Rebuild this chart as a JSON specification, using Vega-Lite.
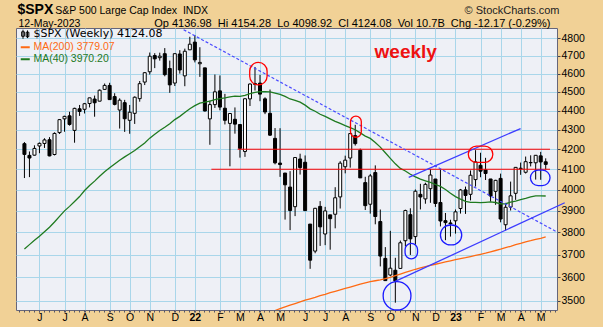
{
  "$schema": "https://vega.github.io/schema/vega-lite/v6.json",
  "width": 541,
  "height": 282,
  "autosize": {"type": "none"},
  "padding": {"left": 16, "top": 28, "right": 46, "bottom": 17},
  "background": "#f1d196",
  "config": {
    "view": {"stroke": "#66667a", "strokeWidth": 1, "fill": "#eef0f6"},
    "font": "Liberation Sans"
  },
  "title": {
    "text": "$SPX",
    "anchor": "start",
    "frame": "group",
    "font": "Liberation Sans",
    "fontSize": 14,
    "fontWeight": "bold",
    "color": "#000000",
    "offset": 0,
    "dx": 1.5,
    "dy": 12.5
  },
  "resolve": {"axis": {"x": "independent", "y": "independent"}},
  "datasets": {
    "weeks": [
      {"d":"2021-05-10","o":4228.29,"h":4236.39,"l":4056.88,"c":4173.85,"ma40":3724.8},
      {"d":"2021-05-17","o":4169.14,"h":4188.72,"l":4061.41,"c":4155.86,"ma40":3744.4},
      {"d":"2021-05-24","o":4170.16,"h":4219.76,"l":4168.4,"c":4204.11,"ma40":3764.6},
      {"d":"2021-05-31","o":4216.52,"h":4234.12,"l":4180.0,"c":4229.89,"ma40":3782.6},
      {"d":"2021-06-07","o":4229.34,"h":4255.84,"l":4206.54,"c":4247.44,"ma40":3803.1},
      {"d":"2021-06-14","o":4248.31,"h":4261.66,"l":4164.4,"c":4166.45,"ma40":3823.8},
      {"d":"2021-06-21","o":4173.4,"h":4286.12,"l":4169.0,"c":4280.7,"ma40":3847.8},
      {"d":"2021-06-28","o":4284.9,"h":4355.78,"l":4278.0,"c":4352.34,"ma40":3874.2},
      {"d":"2021-07-05","o":4356.46,"h":4372.87,"l":4289.37,"c":4369.55,"ma40":3899.7},
      {"d":"2021-07-12","o":4372.41,"h":4393.68,"l":4321.07,"c":4327.16,"ma40":3920.9},
      {"d":"2021-07-19","o":4296.4,"h":4415.18,"l":4233.13,"c":4411.79,"ma40":3944.1},
      {"d":"2021-07-26","o":4409.58,"h":4429.97,"l":4372.0,"c":4395.26,"ma40":3967.4},
      {"d":"2021-08-02","o":4406.86,"h":4440.82,"l":4384.81,"c":4436.52,"ma40":3996.5},
      {"d":"2021-08-09","o":4437.77,"h":4468.37,"l":4416.75,"c":4468.0,"ma40":4020.5},
      {"d":"2021-08-16","o":4461.65,"h":4480.26,"l":4367.73,"c":4441.67,"ma40":4041.9},
      {"d":"2021-08-23","o":4450.29,"h":4513.33,"l":4450.0,"c":4509.37,"ma40":4065.7},
      {"d":"2021-08-30","o":4513.76,"h":4545.85,"l":4513.0,"c":4535.43,"ma40":4088.1},
      {"d":"2021-09-06","o":4535.38,"h":4549.78,"l":4457.66,"c":4458.58,"ma40":4107.1},
      {"d":"2021-09-13","o":4474.81,"h":4492.99,"l":4427.76,"c":4432.99,"ma40":4126.4},
      {"d":"2021-09-20","o":4402.95,"h":4465.4,"l":4305.91,"c":4455.48,"ma40":4145.0},
      {"d":"2021-09-27","o":4442.12,"h":4457.3,"l":4288.52,"c":4357.04,"ma40":4161.4},
      {"d":"2021-10-04","o":4348.84,"h":4429.97,"l":4278.94,"c":4391.34,"ma40":4177.2},
      {"d":"2021-10-11","o":4385.44,"h":4475.82,"l":4329.92,"c":4471.37,"ma40":4193.4},
      {"d":"2021-10-18","o":4463.72,"h":4559.67,"l":4447.47,"c":4544.9,"ma40":4212.8},
      {"d":"2021-10-25","o":4553.69,"h":4608.08,"l":4537.36,"c":4605.38,"ma40":4231.9},
      {"d":"2021-11-01","o":4610.62,"h":4718.5,"l":4595.06,"c":4697.53,"ma40":4256.5},
      {"d":"2021-11-08","o":4701.48,"h":4714.92,"l":4630.86,"c":4682.85,"ma40":4276.4},
      {"d":"2021-11-15","o":4689.3,"h":4717.75,"l":4672.78,"c":4697.96,"ma40":4295.5},
      {"d":"2021-11-22","o":4712.0,"h":4743.83,"l":4585.43,"c":4594.62,"ma40":4312.7},
      {"d":"2021-11-29","o":4628.75,"h":4672.95,"l":4495.12,"c":4538.43,"ma40":4330.9},
      {"d":"2021-12-06","o":4548.37,"h":4713.57,"l":4532.1,"c":4712.02,"ma40":4352.6},
      {"d":"2021-12-13","o":4710.3,"h":4731.99,"l":4600.22,"c":4620.64,"ma40":4369.6},
      {"d":"2021-12-20","o":4587.9,"h":4740.74,"l":4531.1,"c":4725.79,"ma40":4389.9},
      {"d":"2021-12-27","o":4733.99,"h":4808.93,"l":4733.99,"c":4766.18,"ma40":4409.7},
      {"d":"2022-01-03","o":4778.14,"h":4818.62,"l":4662.74,"c":4677.03,"ma40":4426.1},
      {"d":"2022-01-10","o":4655.34,"h":4748.83,"l":4582.24,"c":4662.85,"ma40":4439.4},
      {"d":"2022-01-17","o":4632.24,"h":4632.24,"l":4395.34,"c":4397.94,"ma40":4444.8},
      {"d":"2022-01-24","o":4356.32,"h":4453.23,"l":4222.62,"c":4431.85,"ma40":4451.0},
      {"d":"2022-01-31","o":4431.79,"h":4595.31,"l":4414.01,"c":4500.53,"ma40":4459.0},
      {"d":"2022-02-07","o":4505.75,"h":4590.03,"l":4401.41,"c":4418.64,"ma40":4463.7},
      {"d":"2022-02-14","o":4412.61,"h":4489.55,"l":4327.22,"c":4348.87,"ma40":4468.1},
      {"d":"2022-02-21","o":4332.74,"h":4385.04,"l":4114.65,"c":4384.65,"ma40":4473.8},
      {"d":"2022-02-28","o":4354.17,"h":4416.78,"l":4279.54,"c":4328.87,"ma40":4476.9},
      {"d":"2022-03-07","o":4327.01,"h":4327.01,"l":4157.87,"c":4204.31,"ma40":4476.3},
      {"d":"2022-03-14","o":4188.82,"h":4465.4,"l":4161.72,"c":4463.12,"ma40":4481.7,"ma200":3405},
      {"d":"2022-03-21","o":4462.4,"h":4546.03,"l":4424.3,"c":4543.06,"ma40":4491.1,"ma200":3414},
      {"d":"2022-03-28","o":4541.09,"h":4637.3,"l":4507.57,"c":4545.86,"ma40":4497.7,"ma200":3423},
      {"d":"2022-04-04","o":4547.97,"h":4593.45,"l":4450.04,"c":4488.28,"ma40":4501.1,"ma200":3432},
      {"d":"2022-04-11","o":4462.64,"h":4471.0,"l":4381.34,"c":4392.59,"ma40":4501.7,"ma200":3441},
      {"d":"2022-04-18","o":4385.63,"h":4512.94,"l":4267.62,"c":4271.78,"ma40":4500.3,"ma200":3450},
      {"d":"2022-04-25","o":4255.34,"h":4308.45,"l":4124.28,"c":4131.93,"ma40":4493.3,"ma200":3459},
      {"d":"2022-05-02","o":4130.61,"h":4307.66,"l":4062.51,"c":4123.34,"ma40":4486.5,"ma200":3467},
      {"d":"2022-05-09","o":4081.27,"h":4081.27,"l":3858.87,"c":4023.89,"ma40":4476.2,"ma200":3474},
      {"d":"2022-05-16","o":4013.02,"h":4090.72,"l":3810.32,"c":3901.36,"ma40":4462.0,"ma200":3481},
      {"d":"2022-05-23","o":3919.42,"h":4158.49,"l":3875.13,"c":4158.24,"ma40":4454.9,"ma200":3488},
      {"d":"2022-05-30","o":4151.09,"h":4177.51,"l":4073.85,"c":4108.54,"ma40":4444.9,"ma200":3495},
      {"d":"2022-06-06","o":4134.72,"h":4168.78,"l":3900.16,"c":3900.86,"ma40":4429.0,"ma200":3502},
      {"d":"2022-06-13","o":3838.15,"h":3838.15,"l":3636.87,"c":3674.84,"ma40":4409.4,"ma200":3508},
      {"d":"2022-06-20","o":3715.31,"h":3913.65,"l":3705.68,"c":3911.74,"ma40":4396.4,"ma200":3514},
      {"d":"2022-06-27","o":3920.76,"h":3945.86,"l":3738.67,"c":3825.33,"ma40":4380.7,"ma200":3521},
      {"d":"2022-07-04","o":3792.61,"h":3918.5,"l":3742.06,"c":3899.38,"ma40":4369.2,"ma200":3527},
      {"d":"2022-07-11","o":3880.94,"h":3880.94,"l":3721.56,"c":3863.16,"ma40":4356.0,"ma200":3534},
      {"d":"2022-07-18","o":3883.79,"h":4012.44,"l":3818.63,"c":3961.63,"ma40":4343.3,"ma200":3540},
      {"d":"2022-07-25","o":3965.72,"h":4140.15,"l":3910.74,"c":4130.29,"ma40":4332.9,"ma200":3546},
      {"d":"2022-08-01","o":4112.38,"h":4167.66,"l":4079.81,"c":4145.19,"ma40":4321.4,"ma200":3552},
      {"d":"2022-08-08","o":4155.93,"h":4280.47,"l":4107.96,"c":4280.15,"ma40":4311.0,"ma200":3558},
      {"d":"2022-08-15","o":4269.37,"h":4325.28,"l":4218.7,"c":4228.48,"ma40":4299.6,"ma200":3564},
      {"d":"2022-08-22","o":4195.08,"h":4203.04,"l":4057.66,"c":4057.66,"ma40":4283.6,"ma200":3570},
      {"d":"2022-08-29","o":4034.58,"h":4062.99,"l":3903.65,"c":3924.26,"ma40":4266.8,"ma200":3576},
      {"d":"2022-09-05","o":3930.89,"h":4076.81,"l":3886.75,"c":4067.36,"ma40":4255.1,"ma200":3581},
      {"d":"2022-09-12","o":4083.67,"h":4119.28,"l":3837.08,"c":3873.33,"ma40":4234.1,"ma200":3585},
      {"d":"2022-09-19","o":3849.91,"h":3906.03,"l":3647.47,"c":3693.23,"ma40":4210.9,"ma200":3589},
      {"d":"2022-09-26","o":3682.72,"h":3733.25,"l":3584.13,"c":3585.62,"ma40":4182.4,"ma200":3594},
      {"d":"2022-10-03","o":3609.78,"h":3806.91,"l":3604.93,"c":3639.66,"ma40":4154.2,"ma200":3600},
      {"d":"2022-10-10","o":3630.66,"h":3685.41,"l":3491.58,"c":3583.07,"ma40":4126.9,"ma200":3607},
      {"d":"2022-10-17","o":3638.65,"h":3762.79,"l":3638.65,"c":3752.75,"ma40":4104.1,"ma200":3614},
      {"d":"2022-10-24","o":3762.01,"h":3905.42,"l":3735.96,"c":3901.06,"ma40":4091.7,"ma200":3621},
      {"d":"2022-10-31","o":3881.85,"h":3911.79,"l":3698.15,"c":3770.55,"ma40":4075.2,"ma200":3628},
      {"d":"2022-11-07","o":3780.71,"h":4001.48,"l":3744.22,"c":3992.93,"ma40":4062.5,"ma200":3635},
      {"d":"2022-11-14","o":3977.97,"h":4028.84,"l":3906.54,"c":3965.34,"ma40":4051.2,"ma200":3641},
      {"d":"2022-11-21","o":3956.23,"h":4034.02,"l":3933.34,"c":4026.12,"ma40":4043.1,"ma200":3647},
      {"d":"2022-11-28","o":4005.36,"h":4100.51,"l":3937.65,"c":4071.7,"ma40":4035.3,"ma200":3652},
      {"d":"2022-12-05","o":4052.02,"h":4052.45,"l":3918.39,"c":3934.38,"ma40":4025.4,"ma200":3657},
      {"d":"2022-12-12","o":3939.29,"h":4100.96,"l":3827.29,"c":3852.36,"ma40":4016.6,"ma200":3662},
      {"d":"2022-12-19","o":3853.79,"h":3889.82,"l":3764.49,"c":3844.82,"ma40":4001.2,"ma200":3667},
      {"d":"2022-12-26","o":3843.34,"h":3858.19,"l":3780.78,"c":3839.5,"ma40":3983.6,"ma200":3672},
      {"d":"2023-01-02","o":3853.29,"h":3906.19,"l":3794.33,"c":3895.08,"ma40":3967.3,"ma200":3677},
      {"d":"2023-01-09","o":3910.82,"h":4003.95,"l":3887.0,"c":3999.09,"ma40":3955.1,"ma200":3682},
      {"d":"2023-01-16","o":3999.28,"h":4015.39,"l":3885.54,"c":3972.61,"ma40":3944.6,"ma200":3686},
      {"d":"2023-01-23","o":3978.14,"h":4094.21,"l":3949.06,"c":4070.56,"ma40":3939.5,"ma200":3691},
      {"d":"2023-01-30","o":4049.27,"h":4195.44,"l":4015.55,"c":4136.48,"ma40":3939.7,"ma200":3696},
      {"d":"2023-02-06","o":4119.57,"h":4182.36,"l":4060.79,"c":4090.46,"ma40":3938.8,"ma200":3701},
      {"d":"2023-02-13","o":4096.62,"h":4156.84,"l":4047.3,"c":4079.09,"ma40":3940.2,"ma200":3706},
      {"d":"2023-02-20","o":4052.35,"h":4052.35,"l":3943.08,"c":3970.04,"ma40":3941.9,"ma200":3712},
      {"d":"2023-02-27","o":3992.36,"h":4048.29,"l":3928.16,"c":4045.64,"ma40":3939.1,"ma200":3718},
      {"d":"2023-03-06","o":4055.15,"h":4078.49,"l":3846.32,"c":3861.59,"ma40":3932.9,"ma200":3724},
      {"d":"2023-03-13","o":3835.12,"h":3937.29,"l":3808.86,"c":3916.64,"ma40":3933.3,"ma200":3731},
      {"d":"2023-03-20","o":3917.47,"h":4039.49,"l":3901.27,"c":3970.99,"ma40":3940.7,"ma200":3737},
      {"d":"2023-03-27","o":3982.93,"h":4110.75,"l":3951.53,"c":4109.31,"ma40":3945.7,"ma200":3744},
      {"d":"2023-04-03","o":4102.2,"h":4133.13,"l":4072.55,"c":4105.02,"ma40":3952.7,"ma200":3750},
      {"d":"2023-04-10","o":4085.2,"h":4163.19,"l":4079.0,"c":4137.64,"ma40":3958.6,"ma200":3757},
      {"d":"2023-04-17","o":4132.1,"h":4169.48,"l":4114.0,"c":4133.52,"ma40":3965.4,"ma200":3762},
      {"d":"2023-04-24","o":4132.07,"h":4170.06,"l":4049.35,"c":4169.48,"ma40":3970.6,"ma200":3768},
      {"d":"2023-05-01","o":4166.79,"h":4186.92,"l":4048.28,"c":4136.25,"ma40":3970.7,"ma200":3773},
      {"d":"2023-05-08","o":4136.98,"h":4154.28,"l":4098.92,"c":4124.08,"ma40":3970.2,"ma200":3779.07}
    ],
    "trends": [
      {"line":"downtrend","t1":"2021-12-18T08:00:00Z","p1":4850,"t2":"2023-05-23T05:00:00Z","p2":3803},
      {"line":"support","t1":"2022-10-09T02:00:00Z","p1":3581,"t2":"2023-06-03T14:00:00Z","p2":3938},
      {"line":"channel","t1":"2022-10-28T16:00:00Z","p1":4060,"t2":"2023-04-02T22:00:00Z","p2":4306}
    ],
    "levels": [
      {"price":4200,"t1":"2022-03-03T18:00:00Z","t2":"2023-05-14T00:00:00Z"},
      {"price":4100,"t1":"2022-01-26T03:00:00Z","t2":"2023-05-14T00:00:00Z"}
    ],
    "circles": [
      {"kind":"high","t1":"2022-03-20T15:00:00Z","t2":"2022-04-13T21:00:00Z","ptop":4663,"pbot":4538},
      {"kind":"high","t1":"2022-08-08T09:00:00Z","t2":"2022-08-23T11:00:00Z","ptop":4371,"pbot":4261},
      {"kind":"high","t1":"2023-01-19T21:00:00Z","t2":"2023-02-23T04:00:00Z","ptop":4216,"pbot":4134},
      {"kind":"low","t1":"2022-10-23T14:00:00Z","t2":"2022-11-10T00:00:00Z","ptop":3750,"pbot":3681},
      {"kind":"low","t1":"2022-09-23T00:00:00Z","t2":"2022-10-31T19:00:00Z","ptop":3581,"pbot":3461},
      {"kind":"low","t1":"2022-12-11T23:00:00Z","t2":"2023-01-10T17:00:00Z","ptop":3834,"pbot":3743},
      {"kind":"low","t1":"2023-04-16T16:00:00Z","t2":"2023-05-14T01:00:00Z","ptop":4096,"pbot":4020}
    ],
    "notes": [
      {"t":"2022-10-24T12:00:00Z","price":4721,"note":"weekly"}
    ]
  },
  "layer": [
    {
      "data": {"name": "weeks"},
      "mark": {"type": "rule", "color": "#000000", "strokeWidth": 1, "clip": true},
      "encoding": {
        "x": {
          "field": "d", "type": "temporal",
          "scale": {"type": "utc", "nice": false, "domain": [{"year": 2021, "month": 5, "date": 5, "hours": 5, "utc": true}, {"year": 2023, "month": 5, "date": 16, "hours": 19, "utc": true}]},
          "axis": {
            "orient": "bottom",
            "title": "Op 4136.98\u00a0\u00a0Hi 4154.28\u00a0\u00a0Lo 4098.92\u00a0\u00a0Cl 4124.08\u00a0\u00a0Vol 10.7B\u00a0\u00a0Chg -12.17 (-0.29%)",
            "titleX": 534, "titleY": -287, "titleAlign": "right", "titleBaseline": "middle", "titleAnchor": "start",
            "titleFont": "Liberation Sans", "titleFontSize": 11, "titleFontWeight": "normal", "titleColor": "#000000",
            "values": [
              {"year": 2021, "month": 5, "date": 31, "utc": true},
              {"year": 2021, "month": 7, "date": 5, "utc": true},
              {"year": 2021, "month": 8, "date": 2, "utc": true},
              {"year": 2021, "month": 9, "date": 6, "utc": true},
              {"year": 2021, "month": 10, "date": 4, "utc": true},
              {"year": 2021, "month": 11, "date": 1, "utc": true},
              {"year": 2021, "month": 12, "date": 6, "utc": true},
              {"year": 2022, "month": 1, "date": 3, "utc": true},
              {"year": 2022, "month": 2, "date": 7, "utc": true},
              {"year": 2022, "month": 3, "date": 7, "utc": true},
              {"year": 2022, "month": 4, "date": 4, "utc": true},
              {"year": 2022, "month": 5, "date": 2, "utc": true},
              {"year": 2022, "month": 6, "date": 6, "utc": true},
              {"year": 2022, "month": 7, "date": 4, "utc": true},
              {"year": 2022, "month": 8, "date": 1, "utc": true},
              {"year": 2022, "month": 9, "date": 5, "utc": true},
              {"year": 2022, "month": 10, "date": 3, "utc": true},
              {"year": 2022, "month": 11, "date": 7, "utc": true},
              {"year": 2022, "month": 12, "date": 5, "utc": true},
              {"year": 2023, "month": 1, "date": 2, "utc": true},
              {"year": 2023, "month": 2, "date": 6, "utc": true},
              {"year": 2023, "month": 3, "date": 6, "utc": true},
              {"year": 2023, "month": 4, "date": 3, "utc": true},
              {"year": 2023, "month": 5, "date": 1, "utc": true}
            ],
            "labelExpr": "utcmonth(time(datum.value) + 1728e5) == 0 ? utcFormat(time(datum.value) + 1728e5, '%y') : substring(utcFormat(time(datum.value) + 1728e5, '%b'), 0, 1)",
            "labelOverlap": false, "labelFlush": false, "labelPadding": 0, "labelBaseline": "top",
            "labelFont": "Liberation Sans", "labelFontSize": 10.5, "labelColor": "#000000",
            "labelFontWeight": {"condition": {"test": "utcmonth(time(datum.value) + 1728e5) == 0", "value": "bold"}, "value": "normal"},
            "tickSize": 2, "tickColor": "#555566", "domain": false,
            "grid": true, "gridColor": "#a9d6ea", "gridWidth": 1
          }
        },
        "y": {
          "field": "l", "type": "quantitative",
          "scale": {"type": "log", "domain": [3461, 4860], "nice": false, "zero": false},
          "axis": {
            "orient": "right",
            "values": [3500, 3600, 3700, 3800, 3900, 4000, 4100, 4200, 4300, 4400, 4500, 4600, 4700, 4800],
            "format": "d", "tickSize": 3, "tickColor": "#444455", "labelPadding": 1,
            "labelFont": "Liberation Sans", "labelFontSize": 10.5, "labelColor": "#000000", "labelBaseline": "middle",
            "labelFlush": false, "labelOverlap": false, "domain": false,
            "grid": true, "gridColor": "#a9d6ea", "gridWidth": 1,
            "title": "\u00a9 StockCharts.com", "titleAngle": 0, "titleAlign": "right", "titleBaseline": "middle",
            "titleX": 2, "titleY": -17.6, "titleFont": "Liberation Sans", "titleFontSize": 11, "titleFontWeight": "normal", "titleColor": "#222222"
          }
        },
        "y2": {"field": "h"}
      }
    },
    {
      "data": {"name": "weeks"},
      "mark": {"type": "bar", "size": 3, "stroke": "#000000", "strokeWidth": 1, "clip": true},
      "encoding": {
        "x": {
          "field": "d", "type": "temporal",
          "axis": {"orient": "bottom", "title": null, "labels": false, "grid": false, "domain": false, "ticks": true, "tickSize": 2, "tickColor": "#555566", "tickCount": {"interval": "week", "step": 1}}
        },
        "y": {"field": "o", "type": "quantitative", "axis": null},
        "y2": {"field": "c"},
        "fill": {"condition": {"test": "datum.c > datum.o", "value": "#ffffff"}, "value": "#000000"}
      }
    },
    {
      "data": {"name": "weeks"},
      "transform": [
        {"fold": ["ma200", "ma40"], "as": ["series", "value"]},
        {"filter": "isValid(datum.value)"}
      ],
      "mark": {"type": "line", "strokeWidth": 1.3, "clip": true},
      "encoding": {
        "x": {"field": "d", "type": "temporal", "axis": null},
        "y": {"field": "value", "type": "quantitative", "axis": null},
        "color": {
          "field": "series", "type": "nominal",
          "scale": {"domain": ["spx", "ma200", "ma40"], "range": ["#000000", "#ff6a13", "#1f7a1f"]},
          "legend": {
            "orient": "none", "legendX": 4, "legendY": 1, "padding": 0, "title": null,
            "symbolType": "stroke", "symbolSize": 81, "symbolStrokeWidth": 2,
            "labelFont": "Liberation Sans", "labelFontSize": 10.5, "labelOffset": 3, "rowPadding": 1,
            "labelExpr": "datum.value == 'spx' ? '$SPX (Weekly) 4124.08' : datum.value == 'ma200' ? 'MA(200) 3779.07' : 'MA(40) 3970.20'",
            "encode": {
              "labels": {"update": {
                "fill": {"scale": "color", "field": "value"},
                "font": {"signal": "datum.value == 'spx' ? 'DejaVu Sans' : 'Liberation Sans'"},
                "fontSize": {"signal": "datum.value == 'spx' ? 11 : 10.5"}
              }},
              "symbols": {"update": {
                "shape": {"signal": "datum.value == 'spx' ? 'M-0.5,-1V1M-0.8,-0.55H-0.2V0.45H-0.8ZM0.5,-0.85V0.85M0.2,-0.45H0.8V0.55H0.2Z' : 'stroke'"},
                "strokeWidth": {"signal": "datum.value == 'spx' ? 1 : 2"}
              }}
            }
          }
        }
      }
    },
    {
      "data": {"name": "levels"},
      "mark": {"type": "rule", "color": "#ff0000", "strokeWidth": 1, "clip": false},
      "encoding": {
        "x": {"field": "t1", "type": "temporal", "axis": null},
        "x2": {"field": "t2"},
        "y": {"field": "price", "type": "quantitative", "axis": null}
      }
    },
    {
      "data": {"name": "trends"},
      "transform": [{"filter": "datum.line == 'downtrend'"}],
      "mark": {"type": "rule", "color": "#4a4aff", "strokeWidth": 1.2, "strokeDash": [3, 2], "clip": false},
      "encoding": {
        "x": {"field": "t1", "type": "temporal", "axis": null},
        "x2": {"field": "t2"},
        "y": {"field": "p1", "type": "quantitative", "axis": null},
        "y2": {"field": "p2"}
      }
    },
    {
      "data": {"name": "trends"},
      "transform": [{"filter": "datum.line != 'downtrend'"}],
      "mark": {"type": "rule", "color": "#3c3cff", "strokeWidth": 1.3, "clip": false},
      "encoding": {
        "x": {"field": "t1", "type": "temporal", "axis": null},
        "x2": {"field": "t2"},
        "y": {"field": "p1", "type": "quantitative", "axis": null},
        "y2": {"field": "p2"}
      }
    },
    {
      "data": {"name": "circles"},
      "mark": {"type": "rect", "filled": false, "strokeWidth": 1.3, "cornerRadius": 40, "clip": false},
      "encoding": {
        "x": {"field": "t1", "type": "temporal", "axis": null},
        "x2": {"field": "t2"},
        "y": {"field": "ptop", "type": "quantitative", "axis": null},
        "y2": {"field": "pbot"},
        "stroke": {"field": "kind", "type": "nominal", "scale": {"domain": ["high", "low"], "range": ["#ff0000", "#1a1aff"]}, "legend": null}
      }
    },
    {
      "data": {"name": "notes"},
      "mark": {"type": "text", "color": "#ee1111", "font": "Liberation Sans", "fontSize": 19, "fontWeight": "bold", "align": "center", "baseline": "middle"},
      "encoding": {
        "x": {
          "field": "t", "type": "temporal",
          "axis": {
            "orient": "top", "labels": false, "ticks": false, "domain": false, "grid": false,
            "title": "S&P 500 Large Cap Index\u00a0\u00a0INDX",
            "titleX": 38.8, "titleY": -17.6, "titleAlign": "left", "titleBaseline": "middle",
            "titleFont": "Liberation Sans", "titleFontSize": 10.5, "titleFontWeight": "normal", "titleColor": "#000000"
          }
        },
        "y": {
          "field": "price", "type": "quantitative",
          "axis": {
            "orient": "left", "labels": false, "ticks": false, "domain": false, "grid": false,
            "title": "12-May-2023", "titleAngle": 0,
            "titleX": 2, "titleY": -5, "titleAlign": "left", "titleBaseline": "middle",
            "titleFont": "Liberation Sans", "titleFontSize": 10.5, "titleFontWeight": "normal", "titleColor": "#000000"
          }
        },
        "text": {"field": "note"}
      }
    }
  ]
}
